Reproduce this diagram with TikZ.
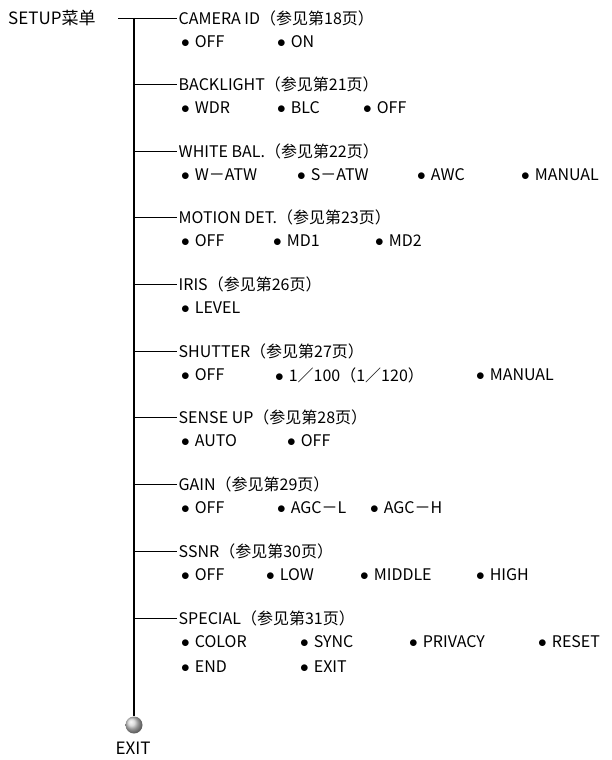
\documentclass[tikz,border=0pt]{standalone}
\usepackage{fontspec}
\setmainfont{Noto Sans CJK SC}
\newcommand{\bul}{$\bullet$\hspace{5pt}}
\usetikzlibrary{shadings}

\begin{document}
\begin{tikzpicture}[x=1pt,y=-1pt,
  head/.style={anchor=west,inner sep=1.5pt,font=\fontsize{16}{17}\selectfont},
  opt/.style={anchor=west,inner sep=0pt,font=\fontsize{16}{17}\selectfont},
  branch/.style={line width=0.6pt}]
\useasboundingbox (0,0) rectangle (612,760);

\node[anchor=west,inner sep=0pt,font=\fontsize{17}{18}\selectfont] (setup) at (8,18) {SETUP菜单};
\coordinate (T) at (118,18);

% spine points
\coordinate (s1) at (134,18);
\coordinate (s2) at (134,84);
\coordinate (s3) at (134,151);
\coordinate (s4) at (134,217);
\coordinate (s5) at (134,284);
\coordinate (s6) at (134,351);
\coordinate (s7) at (134,417);
\coordinate (s8) at (134,484);
\coordinate (s9) at (134,551);
\coordinate (s10) at (134,618);

\node[head] (h1) at (177,18) {CAMERA ID（参见第18页）};
\node[head] (h2) at (177,84) {BACKLIGHT（参见第21页）};
\node[head] (h3) at (177,151) {WHITE BAL.（参见第22页）};
\node[head] (h4) at (177,217) {MOTION DET.（参见第23页）};
\node[head] (h5) at (177,284) {IRIS（参见第26页）};
\node[head] (h6) at (177,351) {SHUTTER（参见第27页）};
\node[head] (h7) at (177,417) {SENSE UP（参见第28页）};
\node[head] (h8) at (177,484) {GAIN（参见第29页）};
\node[head] (h9) at (177,551) {SSNR（参见第30页）};
\node[head] (h10) at (177,618) {SPECIAL（参见第31页）};

% options
\node[opt] (o1a) at (181,42) {\bul OFF};
\node[opt] (o1b) at (277,42) {\bul ON};
\node[opt] (o2a) at (181,108) {\bul WDR};
\node[opt] (o2b) at (277,108) {\bul BLC};
\node[opt] (o2c) at (363,108) {\bul OFF};
\node[opt] (o3a) at (181,175) {\bul W－ATW};
\node[opt] (o3b) at (297,175) {\bul S－ATW};
\node[opt] (o3c) at (417,175) {\bul AWC};
\node[opt] (o3d) at (521,175) {\bul MANUAL};
\node[opt] (o4a) at (181,241) {\bul OFF};
\node[opt] (o4b) at (273,241) {\bul MD1};
\node[opt] (o4c) at (375,241) {\bul MD2};
\node[opt] (o5a) at (181,308) {\bul LEVEL};
\node[opt] (o6a) at (181,375) {\bul OFF};
\node[opt] (o6b) at (275,375) {\bul 1／100（1／120）};
\node[opt] (o6c) at (476,375) {\bul MANUAL};
\node[opt] (o7a) at (181,441) {\bul AUTO};
\node[opt] (o7b) at (287,441) {\bul OFF};
\node[opt] (o8a) at (181,508) {\bul OFF};
\node[opt] (o8b) at (277,508) {\bul AGC－L};
\node[opt] (o8c) at (370,508) {\bul AGC－H};
\node[opt] (o9a) at (181,575) {\bul OFF};
\node[opt] (o9b) at (266,575) {\bul LOW};
\node[opt] (o9c) at (360,575) {\bul MIDDLE};
\node[opt] (o9d) at (476,575) {\bul HIGH};
\node[opt] (o10a) at (181,642) {\bul COLOR};
\node[opt] (o10b) at (300,642) {\bul SYNC};
\node[opt] (o10c) at (409,642) {\bul PRIVACY};
\node[opt] (o10d) at (538,642) {\bul RESET};
\node[opt] (o10e) at (181,667) {\bul END};
\node[opt] (o10f) at (300,667) {\bul EXIT};

% exit ball
\node[circle,inner sep=0pt,minimum size=17pt,ball color=gray!35] (ball) at (134,725) {};
\node[inner sep=0pt,font=\fontsize{17}{18}\selectfont] (exit) at (133,748) {EXIT};

\draw[line width=2.2pt] (s1) -- (ball.north);
\draw[branch] (T) -- (h1.west);
\draw[branch] (s2) -- (h2.west);
\draw[branch] (s3) -- (h3.west);
\draw[branch] (s4) -- (h4.west);
\draw[branch] (s5) -- (h5.west);
\draw[branch] (s6) -- (h6.west);
\draw[branch] (s7) -- (h7.west);
\draw[branch] (s8) -- (h8.west);
\draw[branch] (s9) -- (h9.west);
\draw[branch] (s10) -- (h10.west);
\end{tikzpicture}
\end{document}
